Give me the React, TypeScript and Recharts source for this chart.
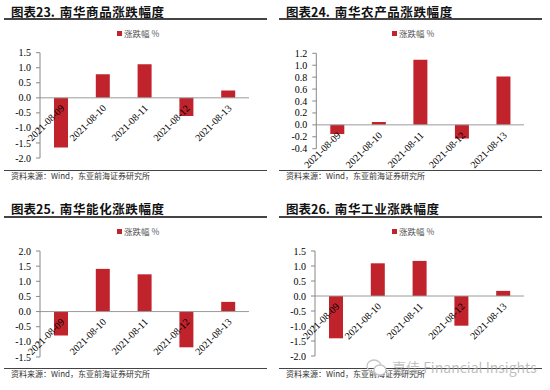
import React from 'react';
import { BarChart, Bar, XAxis, YAxis, ReferenceLine, LabelList } from 'recharts';

const dates = ['2021-08-09', '2021-08-10', '2021-08-11', '2021-08-12', '2021-08-13'];
const commodityValues = [-1.65, 0.78, 1.12, -0.6, 0.24];
const agriValues = [-0.155, 0.047, 1.09, -0.23, 0.81];
const energyValues = [-0.79, 1.41, 1.23, -1.18, 0.32];
const industryValues = [-1.41, 1.09, 1.17, -0.99, 0.17];

const ticksCommodity = [-2.0, -1.5, -1.0, -0.5, 0.0, 0.5, 1.0, 1.5];
const ticksAgri = [-0.4, -0.2, 0.0, 0.2, 0.4, 0.6, 0.8, 1.0, 1.2];
const ticksEnergy = [-1.5, -1.0, -0.5, 0.0, 0.5, 1.0, 1.5, 2.0];
const ticksIndustry = [-2.0, -1.5, -1.0, -0.5, 0.0, 0.5, 1.0, 1.5];

const titlePrefixes = ['图表23.', '图表24.', '图表25.', '图表26.'];
const titleNames = ['南华商品涨跌幅度', '南华农产品涨跌幅度', '南华能化涨跌幅度', '南华工业涨跌幅度'];
const legendLabel = '涨跌幅 %';
const sourceText = '资料来源：Wind，东亚前海证券研究所';
const watermarkText = '嘉佳 Financial Insights';

const BAR = '#C0232C';
const CJK = '"Noto Sans CJK SC", "Noto Sans", sans-serif';
const SERIF = '"Liberation Serif", "DejaVu Serif", serif';

type Layout = {
  left: number; top: number; plotTop: number; plotBottom: number; axisX: number; plotRight: number;
  titleY: number; ruleY: number; legendY: number; bottomY: number; sourceY: number;
};

const topRow = { titleY: 12, ruleY: 18.7, legendY: 33, bottomY: 170.7, sourceY: 176 };
const bottomRow = { titleY: 14, ruleY: 22, legendY: 36, bottomY: 173.3, sourceY: 179 };

const layouts: Layout[] = [
  { left: 0, top: 0, plotTop: 52.7, plotBottom: 158, axisX: 40, plotRight: 249, ...topRow },
  { left: 275, top: 0, plotTop: 53.3, plotBottom: 148.7, axisX: 41.3, plotRight: 249, ...topRow },
  { left: 0, top: 195, plotTop: 56, plotBottom: 162, axisX: 40, plotRight: 249, ...bottomRow },
  { left: 275, top: 195, plotTop: 56, plotBottom: 161, axisX: 40, plotRight: 249, ...bottomRow },
];

const makeLabel = (values: number[]) => (props: any) => {
  const vb = props.viewBox && typeof props.viewBox.x === 'number' ? props.viewBox : props;
  const x = Number(vb.x);
  const y = Number(vb.y);
  const w = Number(vb.width);
  const h = Number(vb.height);
  const idx = props.index;
  const v = values[idx];
  const zero = v >= 0 ? Math.max(y, y + h) : Math.min(y, y + h);
  const ax = x + w / 2 + 4;
  const ay = zero + 11;
  return (
    <text
      x={ax}
      y={ay}
      transform={`rotate(-45 ${ax} ${ay})`}
      textAnchor="end"
      fontSize={10}
      fontFamily={SERIF}
      fill="#000"
    >
      {dates[idx]}
    </text>
  );
};

function Panel({ prefix, name, values, ticks, L }: { prefix: string; name: string; values: number[]; ticks: number[]; L: Layout }) {
  const data = dates.map((d, i) => ({ date: d, value: values[i] }));
  return (
    <div style={{ position: 'absolute', left: L.left, top: L.top, width: 275, height: 195 }}>
      <div
        style={{
          position: 'absolute', left: 11, top: L.titleY - 9, height: 18, lineHeight: '18px',
          fontFamily: CJK, fontWeight: 700, fontSize: 12.5, color: '#111', whiteSpace: 'nowrap',
        }}
      >
        <span>{prefix}</span>
        <span style={{ marginLeft: 5, letterSpacing: 0.6 }}>{name}</span>
      </div>
      <div style={{ position: 'absolute', left: 4, width: 263, top: L.ruleY - 1, height: 2, background: '#444' }} />
      <div
        style={{
          position: 'absolute', left: 117, top: L.legendY - 7, height: 14, lineHeight: '14px',
          fontFamily: CJK, fontSize: 8.5, color: '#555', whiteSpace: 'nowrap', display: 'flex', alignItems: 'center',
        }}
      >
        <span style={{ display: 'inline-block', width: 5, height: 5, background: BAR, marginRight: 2 }} />
        {legendLabel}
      </div>
      <div style={{ position: 'absolute', left: 0, top: 0 }}>
        <BarChart
          width={275}
          height={195}
          data={data}
          margin={{ top: L.plotTop, right: 275 - L.plotRight, bottom: 195 - L.plotBottom, left: 0 }}
        >
          <XAxis dataKey="date" hide height={0} />
          <YAxis
            width={L.axisX}
            domain={[ticks[0], ticks[ticks.length - 1]]}
            ticks={ticks}
            interval={0}
            allowDataOverflow
            tickFormatter={(v: number) => v.toFixed(1)}
            tick={{ fontSize: 10, fill: '#000', fontFamily: SERIF }}
            axisLine={{ stroke: '#888' }}
            tickLine={{ stroke: '#888' }}
            tickSize={4}
            tickMargin={5}
          />
          <ReferenceLine y={0} stroke="#9a9a9a" strokeWidth={1} />
          <Bar dataKey="value" fill={BAR} barSize={14} isAnimationActive={false}>
            <LabelList dataKey="date" content={makeLabel(values)} />
          </Bar>
        </BarChart>
      </div>
      <div style={{ position: 'absolute', left: 4, width: 263, top: L.bottomY - 0.5, height: 1, background: '#444' }} />
      <div
        style={{
          position: 'absolute', left: 11, top: L.sourceY - 6, height: 12, lineHeight: '12px',
          fontFamily: CJK, fontSize: 8, color: '#333', whiteSpace: 'nowrap',
        }}
      >
        {sourceText}
      </div>
    </div>
  );
}

export default function App() {
  const series = [commodityValues, agriValues, energyValues, industryValues];
  const tickSets = [ticksCommodity, ticksAgri, ticksEnergy, ticksIndustry];
  return (
    <div style={{ position: 'absolute', left: 0, top: 0, width: 550, height: 390, background: '#fff', overflow: 'hidden' }}>
      {layouts.map((L, i) => (
        <Panel key={i} prefix={titlePrefixes[i]} name={titleNames[i]} values={series[i]} ticks={tickSets[i]} L={L} />
      ))}
      <svg style={{ position: 'absolute', left: 366, top: 358 }} width={22} height={20}>
        <ellipse cx={8} cy={8} rx={7} ry={6} fill="none" stroke="#c4c4c4" strokeWidth={1.3} />
        <ellipse cx={14} cy={12} rx={6} ry={5} fill="#fff" stroke="#c4c4c4" strokeWidth={1.3} />
      </svg>
      <div
        style={{
          position: 'absolute', left: 392, top: 358, height: 18, lineHeight: '18px',
          fontFamily: CJK, fontSize: 14, color: 'rgba(170,170,170,0.75)', whiteSpace: 'nowrap',
        }}
      >
        {watermarkText}
      </div>
    </div>
  );
}
